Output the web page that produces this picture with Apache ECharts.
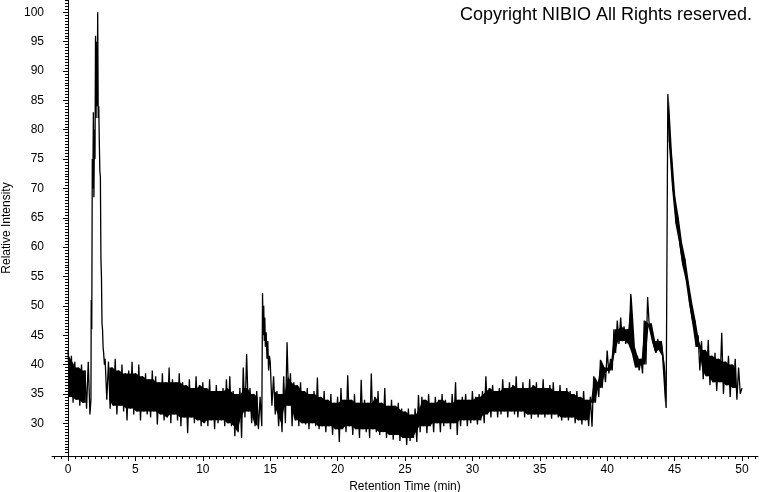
<!DOCTYPE html>
<html>
<head>
<meta charset="utf-8">
<script src="https://cdn.jsdelivr.net/npm/echarts@6.0.0/dist/echarts.min.js"></script>
<style>
  html, body { margin: 0; padding: 0; background: #fff; }
  #chart { width: 760px; height: 492px; }
</style>
</head>
<body>
<div id="chart"></div>
<script>
// Sampling of the noise envelope: one upper and one lower reading every 0.25 min
const sampleStep = 0.25;
// Upper edge of the trace at t = i * 0.25 min (null where a peak is given explicitly)
const upperValues = [
  42.5, 41.5, 40.5, 39.5, 40, 39, 40.5, null, null, null,
  null, 41, 40.5, 39.5, 41, 39, 40, 38.5, 39, 40.5,
  38.5, 40, 38, 38.5, 37.5, 39, 38, 37, 38.5, 37,
  39.5, 37.5, 37, 38.5, 37, 36.5, 37.5, 36, 38, 36.5,
  37, 36, 37.5, 35.5, 36.5, 35.5, 36, 37.5, 38, 35.5,
  35, 36, 39.5, 41.8, 36, 35, 35.5, 34.5, null, null,
  40.5, 38, 35.5, 35, 38, 43.8, 38.5, 37, 36.5, 37,
  35.5, 36, 35, 35.5, 37.8, 34.5, 35.5, 34, 35, 33.5,
  34.5, 36, 34, 38.2, 34, 35, 33.5, 37.4, 34, 33.5,
  38.5, 34.5, 35.5, 33.5, 36, 33, 34, 33, 33.5, 32.5,
  32, 32.5, 31.5, 32.5, 34.8, 34.5, 34, 35, 33.5, 34.5,
  34, 35, 34, 33.5, 35, 37, 34, 34.5, 35, 34,
  35.5, 34.5, 35, 35.5, 38, 36, 36.5, 35.5, 36, 37.5,
  36, 37, 36.5, 38, 36, 37, 36, 37.5, 36.5, 37,
  36, 37.5, 36, 36.5, 37, 35.5, 36.5, 35.5, 36, 35.5,
  35, 35.5, 34.5, 35.5, 34, 34.5, 38, 37, 40.8, 39.5,
  42.4, 41, 46, 47.5, 48, 46.5, 46, 52, 43, 41.5,
  41, 47.5, 51.5, 47, 44, 44.4, 44, 39, 86.1, 76,
  68.5, 65, 60.7, 58, 54, 50.5, 47.5, 45, 44, 42.5,
  44.2, 41.5, 42, 41, 45.4, 40.5, 41.5, 40, 41, 39.5,
  36
];
// Lower edge of the trace at t = i * 0.25 + 0.125 min
const lowerValues = [
  34.5, 33.5, 34, 33, 33.5, 32.5, 31.5, null, null, null,
  null, 34, 32.5, 33, 31.5, 33, 32, 30.5, 32.5, 31.5,
  32, 30.5, 32, 31.5, 31, 32, 29.8, 31.5, 30.5, 31,
  30, 31.5, 30.5, 29.5, 31, 28.3, 31, 30, 30.5, 29.5,
  30, 29.5, 30.5, 29, 30, 30.5, 29.5, 30, 29.5, 27.8,
  28.5, 27.5, 31, 32, 30, 29.5, 29, 29.5, null, null,
  33, 31.5, 29.5, 28.5, 30, 33, 29.5, 30.5, 29.5, 30,
  29.8, 29, 30, 29.5, 29, 29.5, 28.5, 29.5, 28, 29,
  26.8, 29, 28.5, 29.5, 28, 29, 27.5, 29, 28.5, 27.5,
  29, 28.5, 28, 28.5, 27.5, 28, 27.2, 28, 27, 27.5,
  26.3, 27, 27.5, 26.8, 28.5, 29.5, 28.3, 29.5, 28.5, 30,
  28.5, 29.5, 30, 29, 30, 28, 29.5, 30.5, 29.5, 30,
  30.5, 29.8, 30.5, 30, 31.5, 31, 32, 31, 31.5, 32,
  31, 32, 31.5, 31, 32, 31, 31.5, 30.8, 31.5, 31,
  31.5, 31, 31.5, 30.8, 31.5, 31, 30.5, 31, 30.5, 31,
  30, 30.5, 29.8, 30.5, 29.5, 29.4, 33.5, 34.5, 36, 37,
  38.5, 39, 42, 43.5, 44, 43.5, 43.5, 42, 39.5, 39,
  38.5, 40, 46.5, 44, 42, 42.5, 41.5, 32.6, 78, 70,
  64, 61, 57, 54.5, 50.5, 47, 43, 39, 37.5, 38,
  36.5, 37, 35.5, 37, 35, 36.5, 34.5, 36, 34, 35,
  null
];
// Peak near 2 min, read point by point
const peak1Times  = [1.70, 1.72, 1.76, 1.80, 1.84, 1.88, 1.92, 1.96, 2.00, 2.04, 2.08, 2.12, 2.16, 2.20, 2.24, 2.28, 2.32, 2.36, 2.40, 2.44, 2.48, 2.52, 2.56, 2.60, 2.64, 2.70];
const peak1Values = [34, 51, 46, 75, 70, 83, 68.5, 80, 75, 96, 82, 95, 84, 100, 82, 84, 78, 73, 72, 58, 55, 47, 46, 43, 42, 40];
// Peak near 14.5 min
const peak2Times  = [14.43, 14.48, 14.52, 14.56, 14.60, 14.64, 14.70, 14.76, 14.82, 14.88, 14.94];
const peak2Values = [52.2, 45, 50, 44, 48, 43, 45.5, 41, 44, 39, 41.5];

// Axis tick labels
const xTickLabels = [0, 5, 10, 15, 20, 25, 30, 35, 40, 45, 50];
const yTickLabels = [30, 35, 40, 45, 50, 55, 60, 65, 70, 75, 80, 85, 90, 95, 100];

const xMinor = [];
for (let v = -1; v <= 51; v += 0.5) xMinor.push(v);
const yMinor = [];
for (let v = 25; v <= 102; v += 0.5) yMinor.push(v);

// Trace: zigzag through upper / lower readings plus the explicit peaks
const points = [];
for (let i = 0; i < upperValues.length; i++) {
  const t = i * sampleStep;
  if (upperValues[i] != null) points.push([t, upperValues[i]]);
  if (lowerValues[i] != null) points.push([t + sampleStep / 2, lowerValues[i]]);
}
peak1Times.forEach((t, j) => points.push([t, peak1Values[j]]));
peak2Times.forEach((t, j) => points.push([t, peak2Values[j]]));
points.sort((a, b) => a[0] - b[0]);

// Dense core of the noise band (where the sampled trace overlaps itself)
const coreSegments = [];
let cur = null;
let prevTop = null;
for (let i = 0; i < upperValues.length; i++) {
  const idx = [i - 1, i, i + 1].filter(k => k >= 0 && k < upperValues.length);
  const ups = idx.map(k => upperValues[k]);
  const lows = idx.map(k => lowerValues[k]);
  let ok = ups.every(v => v != null) && lows.every(v => v != null);
  let top = 0, bot = 0;
  if (ok) {
    top = Math.min(...ups);
    bot = Math.max(...lows);
    if (top <= bot + 0.3) {
      // steep stretch: the band is the reading pair itself
      top = upperValues[i];
      bot = lowerValues[i];
      ok = top > bot;
    }
  }
  if (ok && prevTop != null && Math.abs(top - prevTop) > 15) {
    cur = null;
  }
  if (ok) {
    if (!cur) { cur = { top: [], bot: [] }; coreSegments.push(cur); }
    const t = i * sampleStep + sampleStep / 4;
    cur.top.push([t, top]);
    cur.bot.push([t, bot]);
    prevTop = top;
  } else {
    cur = null;
    prevTop = null;
  }
}

const FONT = "'Liberation Sans', Arial, Helvetica, sans-serif";
const xMin = -1.19, xMax = 51.19, yMin = 24.43, yMax = 102.1;

const chart = echarts.init(document.getElementById('chart'), null, { renderer: 'canvas' });
chart.setOption({
  animation: false,
  backgroundColor: '#fff',
  title: {
    text: 'Copyright NIBIO All Rights reserved.',
    right: 3, top: 1,
    textStyle: { fontFamily: FONT, fontSize: 18, fontWeight: 'normal', color: '#000' }
  },
  grid: { left: 52, right: 2, top: 0, bottom: 36, containLabel: false, outerBoundsMode: 'none' },
  xAxis: [{
    type: 'value', min: xMin, max: xMax, position: 'bottom',
    name: 'Retention Time (min)', nameLocation: 'middle', nameGap: 23,
    nameTextStyle: { fontFamily: FONT, fontSize: 12, color: '#000' },
    axisLine: { show: true, lineStyle: { color: '#000', width: 1 } },
    axisTick: { show: true, customValues: xTickLabels, length: 5, lineStyle: { color: '#000' } },
    axisLabel: { customValues: xTickLabels, margin: 8, fontFamily: FONT, fontSize: 12, color: '#000' },
    splitLine: { show: false }
  }, {
    type: 'value', min: xMin, max: xMax, position: 'bottom',
    axisLine: { show: false },
    axisTick: { show: true, customValues: xMinor, length: 3, lineStyle: { color: '#000' } },
    axisLabel: { show: false },
    splitLine: { show: false }
  }],
  yAxis: [{
    type: 'value', min: yMin, max: yMax, position: 'left',
    name: 'Relative Intensity', nameLocation: 'middle', nameGap: 36, nameRotate: 90,
    nameTextStyle: { fontFamily: FONT, fontSize: 12, color: '#000' },
    axisLine: { show: true, lineStyle: { color: '#000', width: 1 } },
    axisTick: { show: true, customValues: yTickLabels, length: 5, lineStyle: { color: '#000' } },
    axisLabel: { customValues: yTickLabels, margin: 8, fontFamily: FONT, fontSize: 12, color: '#000' },
    splitLine: { show: false }
  }, {
    type: 'value', min: yMin, max: yMax, position: 'left',
    axisLine: { show: false },
    axisTick: { show: true, customValues: yMinor, length: 3, lineStyle: { color: '#000' } },
    axisLabel: { show: false },
    splitLine: { show: false }
  }],
  series: [{
    type: 'custom',
    coordinateSystem: 'cartesian2d',
    xAxisIndex: 0, yAxisIndex: 0,
    data: [[0, 30]],
    silent: true,
    renderItem: function (params, api) {
      return {
        type: 'group',
        children: coreSegments.map(seg => ({
          type: 'polygon',
          shape: {
            points: seg.top.map(p => api.coord(p)).concat(seg.bot.slice().reverse().map(p => api.coord(p)))
          },
          style: { fill: '#000' }
        }))
      };
    }
  }, {
    type: 'line',
    xAxisIndex: 0, yAxisIndex: 0,
    data: points,
    showSymbol: false,
    symbol: 'none',
    sampling: null,
    smooth: false,
    lineStyle: { color: '#000', width: 1.3 },
    emphasis: { disabled: true },
    silent: true
  }]
});
</script>
</body>
</html>
